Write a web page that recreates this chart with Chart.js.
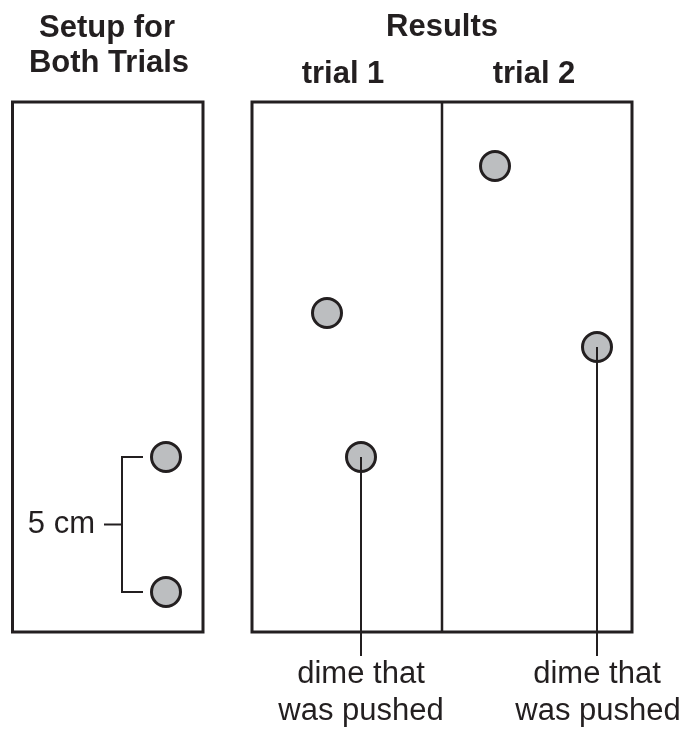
<!DOCTYPE html>
<html>
<head>
<meta charset="utf-8">
<script src="https://cdn.jsdelivr.net/npm/chart.js@4/dist/chart.umd.min.js"></script>
<style>
  html, body { margin: 0; padding: 0; background: #fff; }
  canvas { display: block; }
</style>
</head>
<body>
<canvas id="dimes" width="685" height="730"></canvas>
<script>
// Positions in page units (x to the right, y downward)
const setupDimes = [{ x: 166, y: 457 }, { x: 166, y: 592 }];
const trial1Dimes = [{ x: 327, y: 313 }, { x: 361, y: 457 }];
const trial2Dimes = [{ x: 495, y: 166 }, { x: 597, y: 347 }];
const pushed = 1; // index of the dime that was pushed in each trial

const setupBox = { left: 12.5, right: 203, top: 102, bottom: 632 };
const resultsBox = { left: 252, right: 632, top: 102, bottom: 632, divider: 442 };
const leaderEnd = 656;

const ink = '#231f20';
const dimeGrey = '#bcbec0';

function rect(b) {
    return [
        { x: b.left, y: b.top }, { x: b.right, y: b.top },
        { x: b.right, y: b.bottom }, { x: b.left, y: b.bottom },
        { x: b.left, y: b.top }, { x: b.right, y: b.top }
    ];
}

function lineSet(points, width, order) {
    return {
        type: 'line',
        data: points,
        borderColor: ink,
        borderWidth: width,
        borderJoinStyle: 'miter',
        borderCapStyle: 'butt',
        pointRadius: 0,
        fill: false,
        tension: 0,
        clip: false,
        order: order
    };
}

// the 5 cm bracket between the two setup dimes
const bracketTop = setupDimes[0].y, bracketBottom = setupDimes[1].y;
const bracketMid = (bracketTop + bracketBottom) / 2;
const bracket = [
    { x: 143, y: bracketTop }, { x: 122, y: bracketTop },
    { x: 122, y: bracketBottom }, { x: 143, y: bracketBottom }
];
const bracketTick = [{ x: 104, y: bracketMid }, { x: 122, y: bracketMid }];

const leader1 = [trial1Dimes[pushed], { x: trial1Dimes[pushed].x, y: leaderEnd }];
const leader2 = [trial2Dimes[pushed], { x: trial2Dimes[pushed].x, y: leaderEnd }];

const labels = [
    { text: 'Setup for', x: 107, y: 37, bold: true },
    { text: 'Both Trials', x: 109, y: 72, bold: true },
    { text: 'Results', x: 442, y: 36, bold: true },
    { text: 'trial 1', x: 343, y: 83, bold: true },
    { text: 'trial 2', x: 534, y: 83, bold: true },
    { text: '5 cm', x: 95, y: 533, align: 'right' },
    { text: 'dime that', x: 361, y: 683 },
    { text: 'was pushed', x: 361, y: 720 },
    { text: 'dime that', x: 597, y: 683 },
    { text: 'was pushed', x: 598, y: 720 }
];

const textPlugin = {
    id: 'diagramText',
    afterDatasetsDraw(chart) {
        const ctx = chart.ctx;
        const xs = chart.scales.x, ys = chart.scales.y;
        ctx.save();
        ctx.fillStyle = ink;
        ctx.textBaseline = 'alphabetic';
        labels.forEach(l => {
            ctx.font = (l.bold ? 'bold ' : '') + '31px "Liberation Sans", Arial, sans-serif';
            ctx.textAlign = l.align || 'center';
            ctx.fillText(l.text, xs.getPixelForValue(l.x), ys.getPixelForValue(l.y));
        });
        ctx.restore();
    }
};

new Chart(document.getElementById('dimes'), {
    type: 'scatter',
    data: {
        datasets: [
            lineSet(leader1, 2, 0),
            lineSet(leader2, 2, 0),
            {
                type: 'scatter',
                data: setupDimes.concat(trial1Dimes, trial2Dimes),
                pointRadius: 14.5,
                pointHoverRadius: 14.5,
                backgroundColor: dimeGrey,
                borderColor: ink,
                borderWidth: 3,
                clip: false,
                order: 1
            },
            lineSet(bracket, 2, 2),
            lineSet(bracketTick, 2, 2),
            lineSet(rect(setupBox), 3, 3),
            lineSet(rect(resultsBox), 3, 3),
            lineSet([{ x: resultsBox.divider, y: resultsBox.top }, { x: resultsBox.divider, y: resultsBox.bottom }], 2.5, 3)
        ]
    },
    options: {
        responsive: false,
        animation: false,
        devicePixelRatio: 1,
        layout: { padding: 0, autoPadding: false },
        plugins: { legend: { display: false }, tooltip: { enabled: false } },
        events: [],
        scales: {
            x: { type: 'linear', min: 0, max: 685, display: false },
            y: { type: 'linear', min: 0, max: 730, reverse: true, display: false }
        }
    },
    plugins: [textPlugin]
});
</script>
</body>
</html>
